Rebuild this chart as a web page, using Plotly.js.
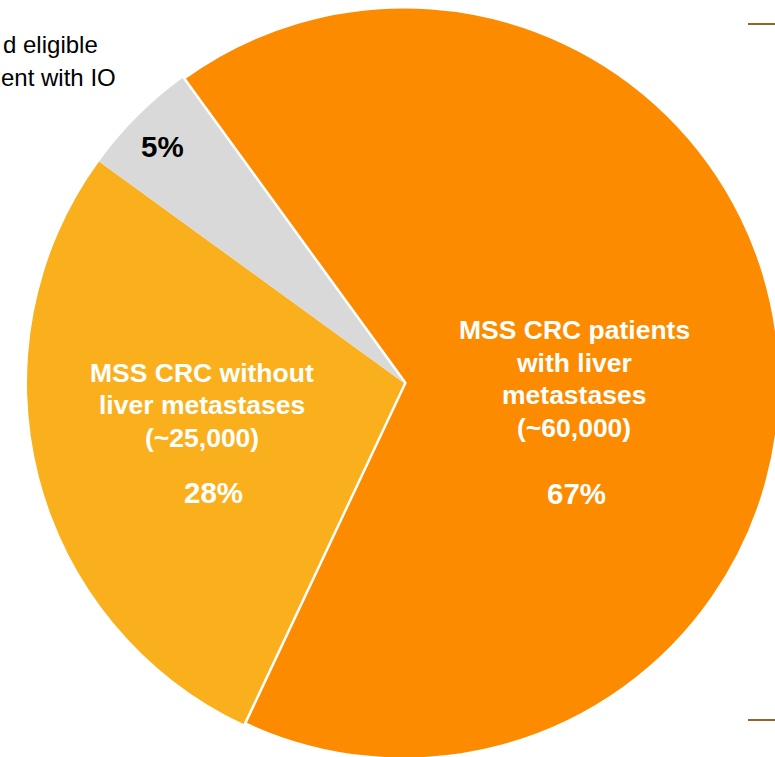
<!DOCTYPE html>
<html>
<head>
<meta charset="utf-8">
<script src="https://cdn.plot.ly/plotly-3.0.1.min.js"></script>
<style>
html,body{margin:0;padding:0;overflow:hidden;background:#fff;width:775px;height:757px;}
#chart{width:808px;height:760px;}
</style>
</head>
<body>
<div id="chart"></div>
<script>
// Data
var sliceLabels = ["MSS CRC patients with liver metastases (~60,000)", "MSS CRC without liver metastases (~25,000)", "Considered eligible for treatment with IO"];
var sliceValues = [67, 28, 5];
var sliceColors = ["#FD8B00", "#FAB01D", "#D9D9D9"];
var sliceTextLines = [
  ["MSS CRC patients", "with liver", "metastases", "(~60,000)"],
  ["MSS CRC without", "liver metastases", "(~25,000)"],
  []
];
var sideLabelLines = ["d eligible", "ent with IO"];

var FONT = "Arial, 'Liberation Sans', sans-serif";

var trace = {
  type: "pie",
  labels: sliceLabels,
  values: sliceValues,
  sort: false,
  direction: "clockwise",
  rotation: -36,
  textinfo: "none",
  hoverinfo: "none",
  showlegend: false,
  marker: {colors: sliceColors, line: {color: "#FFFFFF", width: [5, 0, 0]}},
  domain: {x: [0, 1], y: [0, 1]}
};

// label positions (paper coords)
var blockPos = [[0.7110, 0.5053], [0.2506, 0.4702], null];
var pctPos = [[0.7141, 0.3541], [0.2642, 0.3554], [0.2011, 0.8143]];
var pctColor = ["#FFFFFF", "#FFFFFF", "#000000"];
var lineStep = 32.5 / 754;

var annotations = [];
for (var i = 0; i < sliceValues.length; i++) {
  var lines = sliceTextLines[i];
  if (blockPos[i] && lines.length) {
    var n = lines.length;
    for (var k = 0; k < n; k++) {
      annotations.push({
        xref: "paper", yref: "paper", x: blockPos[i][0],
        y: blockPos[i][1] + ((n - 1) / 2 - k) * lineStep,
        xanchor: "center", yanchor: "middle", showarrow: false, align: "center",
        text: "<b>" + lines[k] + "</b>",
        font: {family: FONT, size: 26.5, color: "#FFFFFF"}
      });
    }
  }
  annotations.push({
    xref: "paper", yref: "paper", x: pctPos[i][0], y: pctPos[i][1],
    xanchor: "center", yanchor: "middle", showarrow: false,
    text: "<b>" + sliceValues[i] + "%</b>",
    font: {family: FONT, size: 29.5, color: pctColor[i]}
  });
}
var sidePos = [[0.1238, 0.9483], [0.1460, 0.9058]];
for (var j = 0; j < sideLabelLines.length; j++) {
  annotations.push({
    xref: "paper", yref: "paper", x: sidePos[j][0], y: sidePos[j][1],
    xanchor: "right", yanchor: "middle", showarrow: false,
    text: sideLabelLines[j],
    font: {family: FONT, size: 24, color: "#000000"}
  });
}

var shapes = [
  {type: "line", xref: "paper", yref: "paper", x0: 0.9257, x1: 1.0, y0: 0.9761, y1: 0.9761, line: {color: "#9A6428", width: 2}},
  {type: "line", xref: "paper", yref: "paper", x0: 0.9257, x1: 1.0, y0: 0.0531, y1: 0.0531, line: {color: "#9A6428", width: 2}}
];

var layout = {
  width: 808, height: 760,
  margin: {l: 0, r: 0, t: 6, b: 0, pad: 0},
  paper_bgcolor: "#FFFFFF",
  plot_bgcolor: "#FFFFFF",
  annotations: annotations,
  shapes: shapes,
  showlegend: false
};

Plotly.newPlot("chart", [trace], layout, {displayModeBar: false, staticPlot: true});
</script>
</body>
</html>
